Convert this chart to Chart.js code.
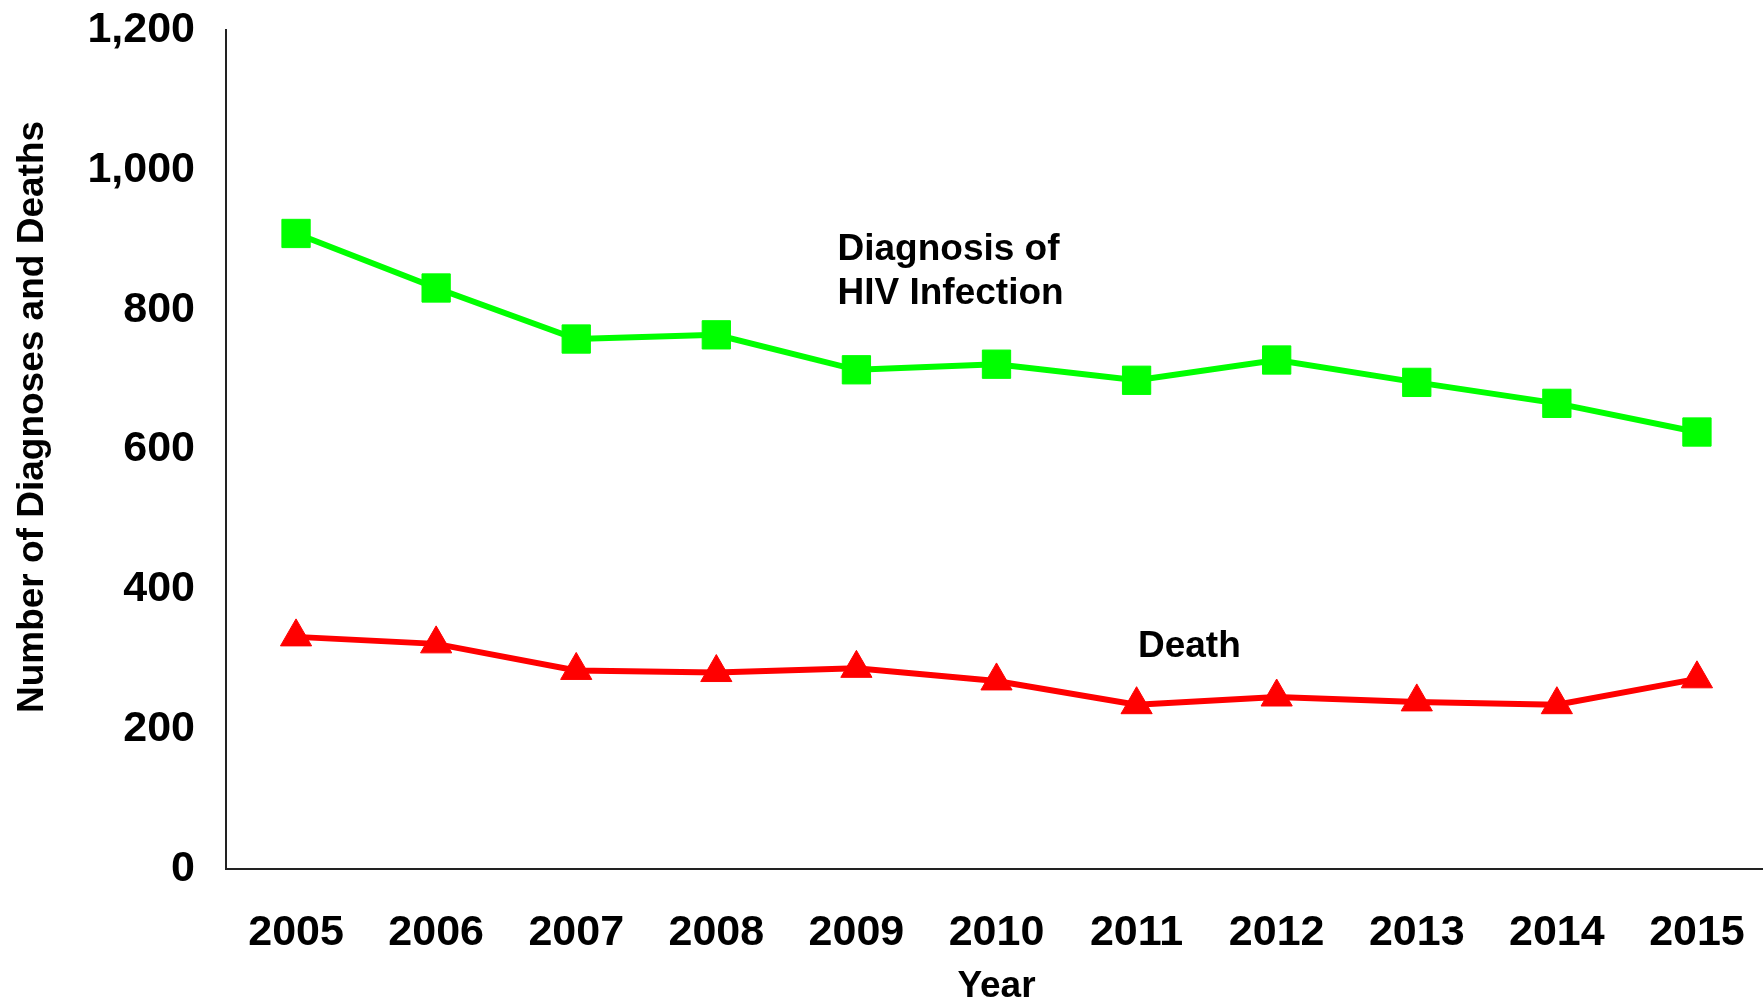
<!DOCTYPE html>
<html>
<head>
<meta charset="utf-8">
<script src="https://cdn.jsdelivr.net/npm/chart.js@4.4.1/dist/chart.umd.min.js"></script>
<style>
  html, body { margin: 0; padding: 0; background: #fff; overflow: hidden; width: 1763px; height: 1004px; }
  canvas { display: block; }
</style>
</head>
<body>
<canvas id="c" width="1788" height="1004" style="width:1788px;height:1004px"></canvas>
<script>
// ---- data ----
const years = ['2005','2006','2007','2008','2009','2010','2011','2012','2013','2014','2015'];
const hivDiagnoses = [909, 831, 758, 764, 714, 722, 699, 728, 696, 666, 625];
const deaths = [332, 322, 284, 281, 287, 269, 235, 246, 239, 235, 272];
const yTicks = [0, 200, 400, 600, 800, 1000, 1200];
const yTitle = 'Number of Diagnoses and Deaths';
const xTitle = 'Year';
// annotation anchors in data units (x = category index, y = value)
const annotations = [
  { lines: ['Diagnosis of', 'HIV Infection'], x: 3.865, y: 885 },
  { lines: ['Death'], x: 6.01, y: 318 }
];

const FONT = '"Liberation Sans", Arial, Helvetica, sans-serif';

const textPlugin = {
  id: 'textPlugin',
  afterDraw(chart) {
    const { ctx, scales: { x, y } } = chart;
    ctx.save();
    ctx.fillStyle = '#000';
    ctx.font = 'bold 37px ' + FONT;
    ctx.textBaseline = 'middle';
    ctx.textAlign = 'left';
    annotations.forEach(a => {
      const px = x.getPixelForValue(a.x);
      const py = y.getPixelForValue(a.y);
      a.lines.forEach((t, i) => ctx.fillText(t, px, py + i * 44));
    });
    ctx.translate(33, 417);
    ctx.rotate(-Math.PI / 2);
    ctx.textAlign = 'center';
    ctx.fillText(yTitle, 0, 0);
    ctx.restore();
  }
};

new Chart(document.getElementById('c'), {
  type: 'line',
  data: {
    labels: years,
    datasets: [
      {
        label: 'Diagnosis of HIV Infection',
        data: hivDiagnoses,
        borderColor: '#00FF00',
        backgroundColor: '#00FF00',
        borderWidth: 6,
        pointStyle: 'rect',
        pointRadius: 20,
        pointBorderWidth: 1,
        tension: 0,
        fill: false
      },
      {
        label: 'Death',
        data: deaths,
        borderColor: '#FF0000',
        backgroundColor: '#FF0000',
        borderWidth: 6,
        pointStyle: 'triangle',
        pointRadius: 18,
        pointBorderWidth: 1,
        tension: 0,
        fill: false
      }
    ]
  },
  options: {
    responsive: false,
    maintainAspectRatio: false,
    devicePixelRatio: 1,
    animation: false,
    layout: { padding: { top: 30, left: 0, right: 0, bottom: 0 } },
    plugins: {
      legend: { display: false },
      tooltip: { enabled: false }
    },
    scales: {
      x: {
        type: 'category',
        offset: true,
        grid: { display: false, drawTicks: false },
        border: { display: true, color: '#222', width: 2 },
        ticks: {
          color: '#000',
          padding: 38,
          maxRotation: 0,
          autoSkip: false,
          font: { family: FONT, size: 43, weight: 'bold' }
        },
        title: {
          display: true,
          text: xTitle,
          color: '#000',
          padding: { top: 0, bottom: 0 },
          font: { family: FONT, size: 37, weight: 'bold', lineHeight: 0.92 }
        },
        afterFit(scale) {
          scale.height = 135;
          scale.paddingLeft = 0;
          scale.paddingRight = 0;
        }
      },
      y: {
        min: 0,
        max: 1200,
        grid: { display: false, drawTicks: false },
        border: { display: true, color: '#222', width: 2 },
        afterBuildTicks(scale) { scale.ticks = yTicks.map(v => ({ value: v })); },
        ticks: {
          color: '#000',
          padding: 31,
          font: { family: FONT, size: 43, weight: 'bold' },
          callback: v => Number(v).toLocaleString('en-US')
        },
        afterFit(scale) {
          scale.width = 226;
          scale.paddingTop = 0;
          scale.paddingBottom = 0;
        }
      }
    }
  },
  plugins: [textPlugin]
});
</script>
</body>
</html>
